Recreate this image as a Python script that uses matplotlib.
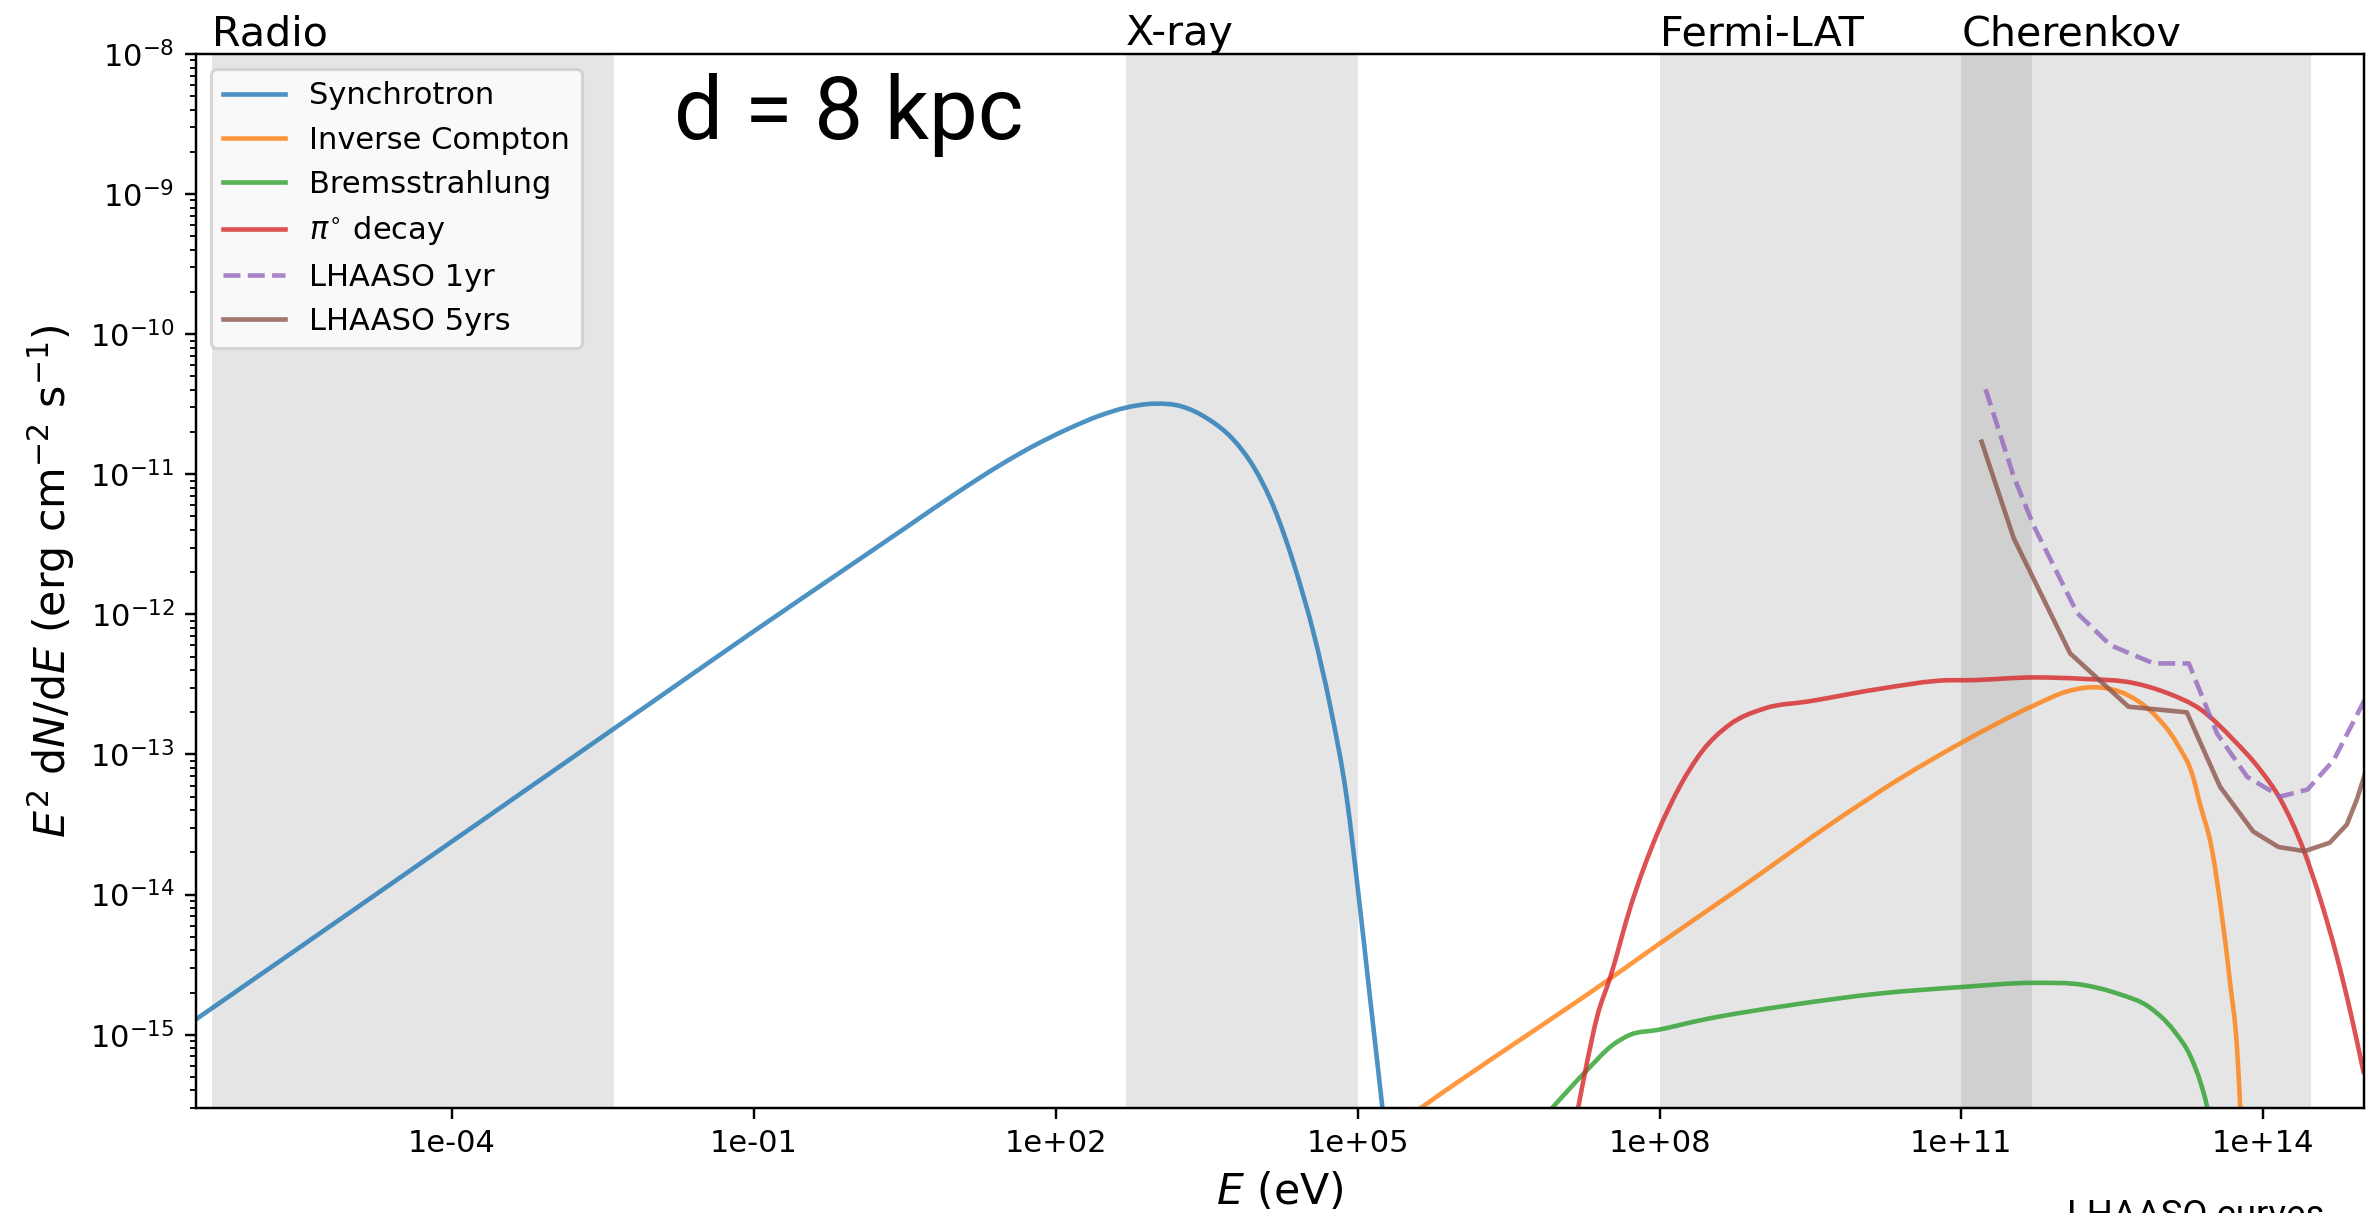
import numpy as np
import matplotlib
matplotlib.use("Agg")
import matplotlib.pyplot as plt
from matplotlib.path import Path
from matplotlib.patches import PathPatch
from matplotlib.ticker import FixedLocator, NullLocator, FuncFormatter


# spectral components, log10(E / eV) vs log10(E^2 dN/dE / erg cm^-2 s^-1)
sync_logE = [-6.545, -5.0, -4.0, -3.0, -2.0, -1.0, 0.0, 0.5, 1.0, 1.447, 1.778, 2.110,
             2.441, 2.687, 2.988, 3.237, 3.502, 3.767, 3.965, 4.164, 4.363, 4.562,
             4.728, 4.894, 5.0, 5.12, 5.25, 5.35]
sync_logF = [-14.89, -14.12, -13.62, -13.12, -12.62, -12.12, -11.63, -11.385, -11.14,
             -10.934, -10.798, -10.68, -10.58, -10.526, -10.496, -10.513, -10.600,
             -10.755, -10.946, -11.231, -11.635, -12.135, -12.659, -13.325, -13.95,
             -14.72, -15.55, -16.2]

ic_logE = [5.4, 5.627, 7.536, 7.98, 8.867, 9.755, 10.394, 10.99, 11.72, 12.05, 12.31,
           12.65, 12.91, 13.14, 13.31, 13.36, 13.49, 13.59, 13.67, 13.74, 13.77, 13.81]
ic_logF = [-15.64, -15.523, -14.586, -14.36, -13.92, -13.47, -13.17, -12.92, -12.65,
           -12.55, -12.52, -12.575, -12.71, -12.92, -13.18, -13.325, -13.68, -14.16,
           -14.63, -15.11, -15.51, -16.2]

brems_logE = [6.8, 6.93, 7.27, 7.54, 7.71, 7.98, 8.42, 9.31, 10.20, 11.0, 11.72, 12.21,
              12.545, 12.88, 13.11, 13.28, 13.38, 13.44, 13.5]
brems_logF = [-15.63, -15.525, -15.26, -15.07, -15.00, -14.966, -14.895, -14.788,
              -14.705, -14.66, -14.63, -14.645, -14.705, -14.81, -14.97, -15.16,
              -15.35, -15.51, -15.75]

pion_logE = [7.08, 7.19, 7.27, 7.38, 7.51, 7.71, 7.98, 8.20, 8.42, 8.69, 9.05, 9.49,
             10.20, 10.865, 11.05, 11.72, 12.21, 12.71, 13.04, 13.38, 13.71, 13.97,
             14.17, 14.40, 14.57, 14.73, 14.87, 15.0]
pion_logF = [-15.93, -15.525, -15.23, -14.87, -14.59, -14.09, -13.56, -13.23, -12.98,
             -12.79, -12.67, -12.62, -12.53, -12.47, -12.47, -12.45, -12.46, -12.49,
             -12.56, -12.68, -12.90, -13.11, -13.32, -13.68, -14.04, -14.44, -14.85,
             -15.28]

# LHAASO sensitivity curves
lhaaso1_logE = [11.24, 11.52, 11.72, 12.15, 12.48, 12.91, 13.26, 13.54, 13.84, 14.17,
                14.44, 14.70, 14.95, 15.05]
lhaaso1_logF = [-10.393, -11.017, -11.37, -11.99, -12.22, -12.35, -12.35, -12.85,
                -13.16, -13.30, -13.25, -13.04, -12.69, -12.55]

lhaaso5_logE = [11.20, 11.52, 12.08, 12.66, 13.24, 13.57, 13.90, 14.15, 14.41, 14.66,
                14.83, 14.93, 15.05]
lhaaso5_logF = [-10.767, -11.457, -12.278, -12.659, -12.699, -13.23, -13.55, -13.66,
                -13.69, -13.63, -13.50, -13.32, -13.05]

# observing windows (eV)
band_names = ["Radio", "X-ray", "Fermi-LAT", "Cherenkov"]
band_lo = [4.1e-7, 5e2, 1e8, 1e11]
band_hi = [4.1e-3, 1e5, 5e11, 3e14]


def curve(logE, logF):
    return 10 ** np.array(logE), 10 ** np.array(logF)


def smooth_curve(ax, logE, logF, color, label):
    # cubic Hermite segments (in log-log space) through the tabulated points
    x = np.asarray(logE, float)
    y = np.asarray(logF, float)
    h = np.diff(x)
    d = np.diff(y) / h
    m = np.empty_like(x)
    m[0], m[-1] = d[0], d[-1]
    m[1:-1] = (d[:-1] * h[1:] + d[1:] * h[:-1]) / (h[:-1] + h[1:])
    verts = [(x[0], y[0])]
    codes = [Path.MOVETO]
    for i in range(len(h)):
        verts += [(x[i] + h[i] / 3, y[i] + m[i] * h[i] / 3),
                  (x[i + 1] - h[i] / 3, y[i + 1] - m[i + 1] * h[i] / 3),
                  (x[i + 1], y[i + 1])]
        codes += [Path.CURVE4] * 3
    verts = 10 ** np.array(verts)
    ax.add_patch(PathPatch(Path(verts, codes), fill=False, edgecolor=color, alpha=0.8,
                           lw=1.5, joinstyle="round", capstyle="butt"))
    ax.plot([], [], color=color, alpha=0.8, label=label)


fig = plt.figure(figsize=(2367 / 220, 1213 / 220), dpi=220)
ax = fig.add_axes([0.0828, 0.0866, 0.9159, 0.8689])

for name, lo, hi in zip(band_names, band_lo, band_hi):
    ax.axvspan(lo, hi, color="grey", alpha=0.2, lw=0)
    ax.text(lo, 1.0085, name, transform=ax.get_xaxis_transform(),
            ha="left", va="baseline", fontsize=13.5)

smooth_curve(ax, sync_logE, sync_logF, "C0", "Synchrotron")
smooth_curve(ax, ic_logE, ic_logF, "C1", "Inverse Compton")
smooth_curve(ax, brems_logE, brems_logF, "C2", "Bremsstrahlung")
smooth_curve(ax, pion_logE, pion_logF, "C3", r"$\pi^{\circ}$ decay")
ax.plot(*curve(lhaaso1_logE, lhaaso1_logF), color="C4", alpha=0.8, ls="--",
        label="LHAASO 1yr")
ax.plot(*curve(lhaaso5_logE, lhaaso5_logF), color="C5", alpha=0.8, label="LHAASO 5yrs")

ax.set_xscale("log")
ax.set_yscale("log")
ax.set_xlim(2.85e-7, 1.0e15)
ax.set_ylim(3e-16, 1e-8)

ax.xaxis.set_major_locator(FixedLocator([1e-4, 1e-1, 1e2, 1e5, 1e8, 1e11, 1e14]))
ax.xaxis.set_minor_locator(NullLocator())
ax.xaxis.set_major_formatter(FuncFormatter(lambda v, pos: "%.0e" % v))

ax.set_xlabel(r"$E$ (eV)", fontsize=14)
ax.set_ylabel(r"$E^2$ d$N$/d$E$ (erg cm$^{-2}$ s$^{-1}$)", fontsize=14)

ax.legend(loc="upper left")

ax.text(0.2205, 0.919, "d = 8 kpc", transform=ax.transAxes, ha="left", va="baseline",
        fontsize=28.5, family="Roboto")
fig.text(0.8733, 0.0124, "LHAASO curves", ha="left", va="top", fontsize=12,
         family="Roboto")

fig.savefig("out.png", dpi=220)
